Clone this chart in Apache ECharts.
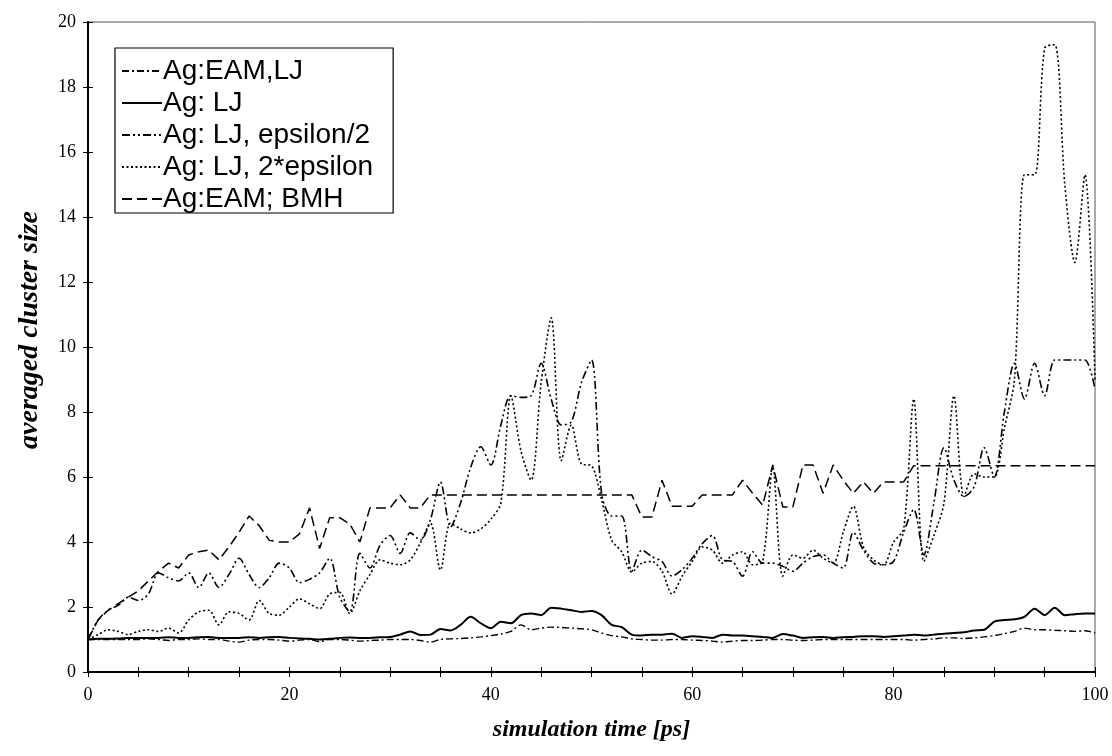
<!DOCTYPE html>
<html>
<head>
<meta charset="utf-8">
<script src="https://cdn.jsdelivr.net/npm/echarts@6/dist/echarts.min.js"></script>
<style>
html,body{margin:0;padding:0;background:#fff;}
#chart{width:1112px;height:756px;}
</style>
</head>
<body>
<div id="chart"></div>
<script>
// time axis (ps), one sample per picosecond
const times = [];
for (let i = 0; i <= 100; i++) times.push(i);

const seriesNames = ["Ag:EAM,LJ", "Ag: LJ", "Ag: LJ, epsilon/2", "Ag: LJ, 2*epsilon", "Ag:EAM; BMH"];

const eamLJ = [1.0,1.0,1.0,1.0,1.0,1.0,1.02,1.0,0.97,1.0,1.0,1.02,1.0,1.0,0.95,0.92,0.98,1.0,1.0,0.98,0.95,0.98,1.0,0.93,1.0,1.0,0.98,0.95,0.97,0.98,1.0,1.0,1.0,0.97,0.92,1.0,1.02,1.03,1.05,1.08,1.12,1.17,1.25,1.45,1.3,1.35,1.38,1.37,1.35,1.33,1.3,1.2,1.12,1.08,1.02,1.0,0.98,0.98,1.0,1.0,0.98,0.97,0.95,0.92,0.95,0.97,0.97,0.98,1.0,1.0,0.98,0.97,0.98,1.0,1.0,1.0,1.0,1.0,1.0,1.0,1.0,1.0,0.98,1.0,1.02,1.05,1.05,1.03,1.05,1.08,1.12,1.18,1.25,1.35,1.3,1.3,1.28,1.27,1.25,1.27,1.2];

const lj = [1.0,1.02,1.02,1.03,1.05,1.05,1.05,1.05,1.07,1.05,1.05,1.07,1.08,1.05,1.05,1.05,1.07,1.05,1.07,1.08,1.05,1.03,1.02,1.0,1.02,1.05,1.06,1.05,1.05,1.07,1.08,1.15,1.25,1.14,1.15,1.32,1.28,1.45,1.7,1.5,1.35,1.55,1.5,1.75,1.8,1.75,1.98,1.95,1.9,1.85,1.88,1.75,1.45,1.38,1.15,1.12,1.15,1.15,1.18,1.05,1.1,1.08,1.05,1.15,1.12,1.12,1.1,1.08,1.05,1.17,1.12,1.05,1.07,1.08,1.05,1.07,1.08,1.1,1.1,1.08,1.1,1.12,1.15,1.12,1.15,1.18,1.2,1.22,1.28,1.3,1.55,1.6,1.62,1.7,1.95,1.75,1.98,1.75,1.78,1.8,1.8];

const ljHalfEps = [1.0,1.6,1.9,2.05,2.3,2.2,2.4,3.05,2.9,2.8,3.05,2.6,3.05,2.6,3.0,3.5,3.0,2.6,2.9,3.35,3.2,2.75,2.85,3.05,3.5,2.3,1.85,3.65,3.2,3.9,4.2,3.65,4.28,4.06,4.68,5.85,4.46,5.2,6.3,6.93,6.37,7.6,8.5,8.45,8.5,9.5,8.4,7.6,7.7,8.9,9.6,5.5,4.8,4.8,3.1,3.75,3.55,3.4,2.95,3.15,3.5,3.95,4.2,3.45,3.4,2.95,3.7,3.35,3.35,3.25,3.1,3.35,3.55,3.6,3.35,3.2,4.3,3.75,3.35,3.3,3.4,4.3,5.0,3.6,5.2,6.9,5.9,5.4,5.7,6.9,6.0,8.0,9.5,8.4,9.5,8.5,9.6,9.6,9.6,9.6,8.7];

const ljTwoEps = [1.0,1.15,1.3,1.25,1.15,1.25,1.3,1.25,1.35,1.2,1.6,1.85,1.9,1.45,1.85,1.8,1.6,2.2,1.8,1.75,2.0,2.25,2.1,1.95,2.4,2.45,1.8,2.5,3.0,3.45,3.35,3.3,3.45,3.97,4.58,3.14,4.58,4.4,4.28,4.4,4.7,5.2,8.5,6.8,5.9,8.9,10.9,6.5,7.6,6.4,6.35,5.3,4.06,3.7,3.08,3.35,3.4,3.1,2.4,2.95,3.4,3.85,3.75,3.35,3.6,3.7,3.3,3.4,6.3,2.95,3.6,3.5,3.75,3.5,3.35,4.3,5.1,3.85,3.45,3.3,4.0,4.4,8.4,3.4,4.2,5.2,8.5,5.4,6.1,6.0,6.0,7.5,9.0,15.3,15.3,19.2,19.3,15.0,12.6,15.3,9.0];

const eamBMH = [1.0,1.6,1.9,2.1,2.3,2.5,2.8,3.1,3.35,3.2,3.6,3.7,3.75,3.45,3.85,4.3,4.8,4.5,4.05,4.0,4.0,4.25,5.05,3.8,4.75,4.75,4.55,4.0,5.05,5.05,5.05,5.45,5.05,5.05,5.45,5.45,5.45,5.45,5.45,5.45,5.45,5.45,5.45,5.45,5.45,5.45,5.45,5.45,5.45,5.45,5.45,5.45,5.45,5.45,5.45,4.77,4.77,5.9,5.1,5.1,5.1,5.45,5.45,5.45,5.45,5.9,5.5,5.13,6.37,5.08,5.08,6.37,6.37,5.5,6.37,5.9,5.5,5.85,5.5,5.85,5.85,5.85,6.35,6.35,6.35,6.35,6.35,6.35,6.35,6.35,6.35,6.35,6.35,6.35,6.35,6.35,6.35,6.35,6.35,6.35,6.35];

const yTicks = [0,2,4,6,8,10,12,14,16,18,20];
const xLabelTicks = [0,20,40,60,80,100];

function pairs(vals){ return times.map((t,i)=>[t, vals[i]]); }

const styles = [
  {type:[7,3,2,3], width:1.4, smooth:0.3},
  {type:'solid', width:2, smooth:0.3},
  {type:[8,3,2,3,2,3], width:1.6, smooth:0.3},
  {type:[2,2.5], width:1.6, smooth:0.3},
  {type:[10,5], width:1.5, smooth:false}
];
const data = [eamLJ, lj, ljHalfEps, ljTwoEps, eamBMH];

const axisFont = 'Liberation Serif, Times New Roman, serif';

const chart = echarts.init(document.getElementById('chart'), null, {renderer:'canvas'});
chart.setOption({
  animation:false,
  backgroundColor:'#fff',
  grid:{left:88, right:17, top:22, bottom:84, show:true, borderColor:'#555', borderWidth:1},
  legend:{
    show:true, orient:'vertical', left:115, top:48,
    data:seriesNames,
    backgroundColor:'#fff', borderColor:'#000', borderWidth:1.2,
    padding:[9,20,0,6], itemGap:4, itemWidth:40, itemHeight:14,
    itemStyle:{opacity:0},
    textStyle:{fontFamily:'Liberation Sans, Arial', fontSize:28, color:'#000', padding:[0,0,0,-4]}
  },
  xAxis:[{
    type:'value', min:0, max:100, interval:5,
    name:'simulation time [ps]', nameLocation:'middle', nameGap:46,
    nameTextStyle:{fontFamily:axisFont, fontStyle:'italic', fontWeight:'bold', fontSize:24, color:'#000'},
    axisLine:{onZero:false, lineStyle:{color:'#000', width:2}},
    axisTick:{show:true, inside:false, length:5, lineStyle:{color:'#000'}},
    axisLabel:{fontFamily:axisFont, fontSize:18, color:'#000', margin:14,
      formatter:v=> xLabelTicks.indexOf(v) >= 0 ? String(v) : ''},
    splitLine:{show:false}
  },{
    type:'value', min:0, max:100, interval:5, position:'bottom',
    axisLine:{show:false}, axisLabel:{show:false}, splitLine:{show:false},
    axisTick:{show:true, inside:true, length:5, lineStyle:{color:'#000'}}
  }],
  yAxis:[{
    type:'value', min:0, max:20, interval:2,
    name:'averaged cluster size', nameLocation:'middle', nameGap:44,
    nameTextStyle:{fontFamily:axisFont, fontStyle:'italic', fontWeight:'bold', fontSize:28, color:'#000', padding:[0,0,0,34]},
    axisLine:{lineStyle:{color:'#000', width:2}},
    axisTick:{show:true, length:5, lineStyle:{color:'#000'}},
    axisLabel:{fontFamily:axisFont, fontSize:18, color:'#000', margin:12,
      formatter:v=> yTicks.indexOf(v) >= 0 ? String(v) : ''},
    splitLine:{show:false}
  },{
    type:'value', min:0, max:20, interval:2, position:'left',
    axisLine:{show:false}, axisLabel:{show:false}, splitLine:{show:false},
    axisTick:{show:true, inside:true, length:5, lineStyle:{color:'#000'}}
  }],
  series: seriesNames.map((n,i)=>({
    name:n, type:'line', data:pairs(data[i]), showSymbol:false, symbol:'none',
    smooth:styles[i].smooth,
    lineStyle:{color:'#000', width:styles[i].width, type:styles[i].type},
    itemStyle:{color:'#000'}
  }))
});
</script>
</body>
</html>
